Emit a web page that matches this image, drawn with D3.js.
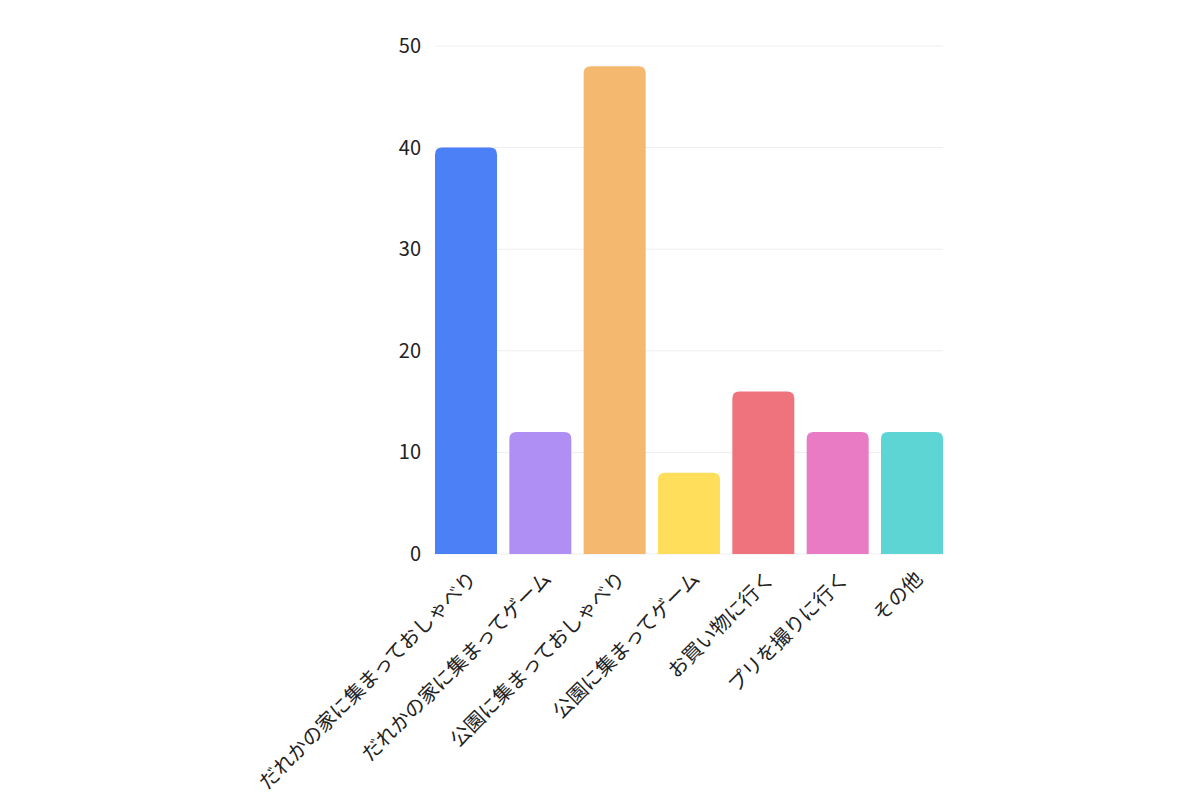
<!DOCTYPE html>
<html><head><meta charset="utf-8">
<script src="https://cdn.jsdelivr.net/npm/d3@7"></script>
<style>body{margin:0;background:#fff;} text{font-family:"Noto Sans CJK JP","Noto Sans",sans-serif;}</style>
</head><body>
<svg id="c" width="1200" height="800"></svg>
<script>
const categories = ["だれかの家に集まっておしゃべり","だれかの家に集まってゲーム","公園に集まっておしゃべり","公園に集まってゲーム","お買い物に行く","プリを撮りに行く","その他"];
const values = [40, 12, 48, 8, 16, 12, 12];
const colors = ["#4b80f7","#b08ff5","#f4b86e","#fede5a","#ef737c","#e87bc3","#5cd5d4"];
const yTicks = [0,10,20,30,40,50];

(function(){
const svg = d3.select("#c");
const mLeft = 435, mRight = 943, mTop = 46, mBottom = 554;
const x = d3.scaleBand().domain(categories).range([mLeft, mRight]).paddingInner(0.166).paddingOuter(0);
const y = d3.scaleLinear().domain([0, 50]).range([mBottom, mTop]);

svg.append("g").selectAll("line").data(yTicks).join("line")
  .attr("x1", mLeft).attr("x2", mRight)
  .attr("y1", d => y(d)).attr("y2", d => y(d))
  .attr("stroke", "#eeeeee").attr("stroke-width", 1);

const ya = svg.append("g").attr("transform", `translate(${mLeft},0)`)
  .call(d3.axisLeft(y).tickValues(yTicks).tickSize(0).tickPadding(14));
ya.select(".domain").remove();
ya.selectAll("text").attr("font-size", 20).attr("fill", "#222").style("font-family", '"Noto Sans CJK JP","Noto Sans",sans-serif');

const r = 7;
function barPath(x0, w, yT, yB) {
  const rr = Math.min(r, w/2, (yB - yT));
  return `M${x0},${yB}V${yT+rr}Q${x0},${yT} ${x0+rr},${yT}H${x0+w-rr}Q${x0+w},${yT} ${x0+w},${yT+rr}V${yB}Z`;
}
svg.append("g").selectAll("path").data(categories).join("path")
  .attr("d", (d,i) => barPath(x(d), x.bandwidth(), y(values[i]), y(0)))
  .attr("fill", (d,i) => colors[i]);

const xa = svg.append("g").attr("transform", `translate(0,${mBottom})`)
  .call(d3.axisBottom(x).tickSize(0).tickPadding(0));
xa.select(".domain").remove();
xa.selectAll("text")
  .attr("font-size", 20).attr("fill", "#222")
  .style("font-family", '"Noto Sans CJK JP","Noto Sans",sans-serif')
  .attr("text-anchor", "end")
  .attr("y", 0).attr("dy", null)
  .attr("transform", "translate(12,26) rotate(-45)");
})();
</script>
</body></html>
